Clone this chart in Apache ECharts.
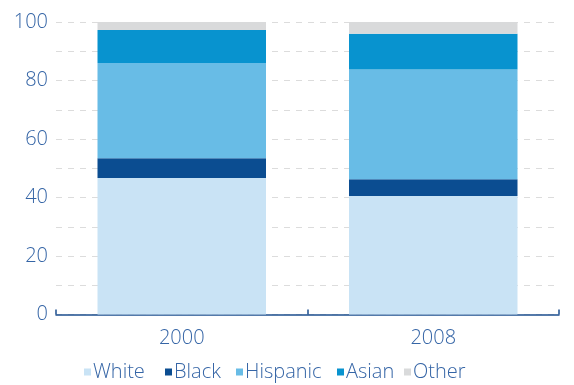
<!DOCTYPE html>
<html>
<head>
<meta charset="utf-8">
<script src="https://cdn.jsdelivr.net/npm/echarts@6/dist/echarts.min.js"></script>
<style>
  html, body { margin: 0; padding: 0; background: #ffffff; }
  #chart { width: 574px; height: 385px; }
</style>
</head>
<body>
<div id="chart"></div>
<script>
// Share of population by group (percent), stacked per year
const years = ['2000', '2008'];
const white = [46.7, 40.5];
const black = [6.7, 5.7];
const hispanic = [32.6, 37.6];
const asian = [11.3, 12.2];
const other = [2.7, 4.0];

const seriesNames = ['White', 'Black', 'Hispanic', 'Asian', 'Other'];
const seriesData = [white, black, hispanic, asian, other];
const seriesColors = ['#c9e3f5', '#0b4d91', '#68bce6', '#0893cf', '#d9dadb'];
// left edge of each legend entry
const legendLeft = [84, 165, 236, 337, 404];

const textColor = '#3565a6';
const fontFamily = '"Open Sans", Lato, sans-serif';
const fontWeight = 300;

const chart = echarts.init(document.getElementById('chart'));
chart.setOption({
  animation: false,
  grid: { left: 56, right: 15, top: 22, bottom: 70.5, containLabel: false },
  legend: seriesNames.map((name, i) => ({
    top: 362,
    left: legendLeft[i],
    icon: 'rect',
    itemWidth: 7,
    itemHeight: 7,
    padding: 0,
    textStyle: { color: textColor, fontSize: 20, fontFamily: fontFamily, fontWeight: fontWeight, padding: [0, 0, 0, -3] },
    data: [name]
  })),
  xAxis: {
    type: 'category',
    data: years,
    axisLine: { lineStyle: { color: '#1d4f8f', width: 1.5 } },
    axisTick: { show: true, inside: true, length: 5, lineStyle: { color: '#1d4f8f', width: 1.5 } },
    axisLabel: { color: textColor, fontSize: 20, fontFamily: fontFamily, fontWeight: fontWeight, margin: 14 }
  },
  yAxis: {
    type: 'value',
    min: 0,
    max: 100,
    interval: 10,
    axisLine: { show: false },
    axisTick: { show: false },
    axisLabel: {
      color: textColor, fontSize: 20, fontFamily: fontFamily, fontWeight: fontWeight, margin: 8,
      formatter: v => (v % 20 === 0 ? String(v) : '')
    },
    splitLine: { lineStyle: { color: '#dcdcdc', type: [6, 6], width: 1 } }
  },
  series: seriesNames.map((name, i) => ({
    name: name,
    type: 'bar',
    stack: 'total',
    barWidth: '67%',
    data: seriesData[i],
    itemStyle: { color: seriesColors[i] }
  }))
});
</script>
</body>
</html>
